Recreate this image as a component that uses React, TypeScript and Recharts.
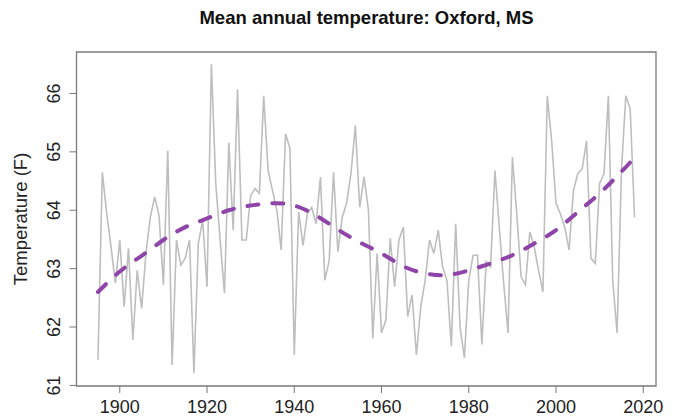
import React from 'react';
import { LineChart, Line, XAxis, YAxis, ReferenceArea, Label } from 'recharts';

const FONT = '"Liberation Sans", Arial, Helvetica, sans-serif';

const startYear = 1895;

// annual mean temperature (F), 1895-2018
const temps = [
  61.44, 64.65, 63.95, 63.37, 62.75, 63.49, 62.35, 63.35, 61.78, 62.97,
  62.32, 63.26, 63.88, 64.23, 63.91, 62.72, 65.02, 61.35, 63.49, 63.06,
  63.18, 63.49, 61.21, 63.43, 63.83, 62.69, 66.5, 64.46, 63.5, 62.58,
  65.16, 63.66, 66.07, 63.49, 63.49, 64.25, 64.37, 64.29, 65.96, 64.68,
  64.34, 64.0, 63.32, 65.31, 65.06, 61.52, 63.97, 63.4, 63.94, 64.05,
  63.77, 64.57, 62.8, 63.14, 64.65, 63.29, 63.88, 64.12, 64.63, 65.45,
  64.05, 64.57, 64.0, 61.81, 63.26, 61.9, 62.12, 63.52, 62.69, 63.49,
  63.71, 62.18, 62.55, 61.52, 62.35, 62.8, 63.49, 63.26, 63.66, 63.03,
  62.8, 61.67, 63.77, 62.0, 61.47, 62.8, 63.23, 63.23, 61.7, 63.12,
  63.03, 64.68, 63.7, 62.75, 61.9, 64.91, 63.94, 62.86, 62.72, 63.63,
  63.37, 62.97, 62.6, 65.96, 65.19, 64.12, 63.94, 63.71, 63.32, 64.34,
  64.63, 64.71, 65.19, 63.18, 63.09, 64.46, 64.63, 65.96, 62.8, 61.9,
  64.68, 65.96, 65.74, 63.88,
];

// smoothed trend, read at these years
const smoothYears = [
  1895, 1900, 1905, 1910, 1915, 1920, 1925, 1930, 1935, 1940, 1945, 1950, 1955,
  1960, 1965, 1970, 1975, 1980, 1985, 1990, 1995, 2000, 2005, 2010, 2015, 2018,
];
const smoothValues = [
  62.6, 62.95, 63.22, 63.49, 63.71, 63.86, 64.0, 64.08, 64.12, 64.08, 63.91, 63.67, 63.45,
  63.26, 63.04, 62.92, 62.89, 62.97, 63.09, 63.23, 63.43, 63.66, 63.97, 64.29, 64.66, 64.9,
];

const xTicks = [1900, 1920, 1940, 1960, 1980, 2000, 2020];
const yTicks = [61, 62, 63, 64, 65, 66];

const xDomain = [1890.08, 2022.92];
const yDomain = [60.99, 66.71];

const data = temps.map((t, i) => {
  const year = startYear + i;
  const k = smoothYears.indexOf(year);
  return { year, temp: t, smooth: k >= 0 ? smoothValues[k] : null };
});

const YTick = (props: any) => {
  const { x, y, payload } = props;
  const cx = x - 8;
  return (
    <text
      x={cx}
      y={y}
      transform={`rotate(-90 ${cx} ${y})`}
      textAnchor="middle"
      dy="0.36em"
      fontSize={18}
      fontFamily={FONT}
      fill="#222"
    >
      {payload.value}
    </text>
  );
};

export default function App() {
  return (
    <div style={{ position: 'absolute', left: 0, top: 0, width: 675, height: 418, background: '#fff' }}>
      <div
        style={{
          position: 'absolute',
          top: 9,
          left: 58,
          width: 617,
          textAlign: 'center',
          fontFamily: FONT,
          fontWeight: 'bold',
          fontSize: 18.5,
          lineHeight: '18.5px',
          color: '#111',
        }}
      >
        Mean annual temperature: Oxford, MS
      </div>
      <LineChart width={675} height={418} data={data} margin={{ top: 52, right: 19, left: 0, bottom: 0 }}>
        <XAxis
          dataKey="year"
          type="number"
          domain={xDomain}
          ticks={xTicks}
          allowDataOverflow
          axisLine={false}
          tickSize={7}
          tickMargin={7}
          height={32}
          tick={{ fontSize: 18, fill: '#222', fontFamily: FONT }}
          tickLine={{ stroke: '#777' }}
        />
        <YAxis
          type="number"
          domain={yDomain}
          ticks={yTicks}
          allowDataOverflow
          axisLine={false}
          tickSize={7}
          tickMargin={8}
          width={76.5}
          tick={<YTick />}
          tickLine={{ stroke: '#777' }}
        >
          <Label
            value="Temperature (F)"
            angle={-90}
            position="insideLeft"
            offset={20}
            fontSize={18.5}
            fontFamily={FONT}
            fill="#222"
            style={{ textAnchor: 'middle' }}
          />
        </YAxis>
        <ReferenceArea
          x1={xDomain[0]}
          x2={xDomain[1]}
          y1={yDomain[0]}
          y2={yDomain[1]}
          fill="none"
          stroke="#7a7a7a"
          strokeWidth={1.3}
        />
        <Line
          type="linear"
          dataKey="temp"
          stroke="#bebebe"
          strokeWidth={1.6}
          dot={false}
          isAnimationActive={false}
        />
        <Line
          type="natural"
          dataKey="smooth"
          stroke="#8e44a8"
          strokeWidth={4}
          strokeDasharray="11 14"
          strokeLinecap="round"
          connectNulls
          dot={false}
          isAnimationActive={false}
        />
      </LineChart>
    </div>
  );
}
